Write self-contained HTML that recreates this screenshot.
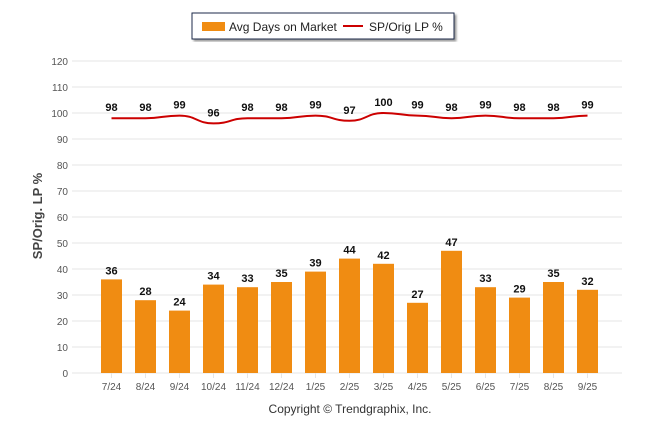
<!DOCTYPE html>
<html><head><meta charset="utf-8"><style>
body{margin:0;background:#fff;font-family:"Liberation Sans",sans-serif}
svg text{font-family:"Liberation Sans",sans-serif}
</style></head><body>
<svg width="646" height="434">
<defs><filter id="sh"><feDropShadow dx="2" dy="2" stdDeviation="1" flood-color="#999"/></filter></defs>
<g>
<rect x="192" y="13" width="262" height="26" fill="#fff" stroke="#1b2a4a" stroke-width="1" filter="url(#sh)"/>
<rect x="202" y="22" width="23" height="9" fill="#f08c12"/>
<text x="229" y="31" font-size="12" fill="#222">Avg Days on Market</text>
<line x1="343" y1="26" x2="363" y2="26" stroke="#cc0000" stroke-width="2"/>
<text x="369" y="31" font-size="12" fill="#222">SP/Orig LP %</text>
</g>
<g id="grid"></g><g id="bars"></g><g id="line"></g><g id="labels"></g>
<text transform="translate(42,216) rotate(-90)" text-anchor="middle" font-size="13" font-weight="bold" fill="#444">SP/Orig. LP %</text>
<text x="350" y="413" text-anchor="middle" font-size="12" fill="#333">Copyright © Trendgraphix, Inc.</text>
</svg>
<script>
const categories=["7/24","8/24","9/24","10/24","11/24","12/24","1/25","2/25","3/25","4/25","5/25","6/25","7/25","8/25","9/25"];
const days=[36,28,24,34,33,35,39,44,42,27,47,33,29,35,32];
const sp=[98,98,99,96,98,98,99,97,100,99,98,99,98,98,99];
const yTicks=[0,10,20,30,40,50,60,70,80,90,100,110,120];
const NS="http://www.w3.org/2000/svg";
const y=v=>373-v*2.6, x=i=>111.5+34*i;
function mk(t,a,p){const e=document.createElementNS(NS,t);for(const k in a)e.setAttribute(k,a[k]);p.appendChild(e);return e;}
const G=document.getElementById('grid'),B=document.getElementById('bars'),L=document.getElementById('line'),T=document.getElementById('labels');
yTicks.forEach(v=>{
 const l=mk('line',{x1:72,x2:622,y1:y(v),y2:y(v),stroke:'#e6e6e6'},G);
 
 
 const t=mk('text',{x:68,y:y(v)+4,'text-anchor':'end','font-size':10,fill:'#555'},G);t.textContent=v;
 
 
});
categories.forEach((c,i)=>{
 const t=mk('text',{x:x(i),y:390,'text-anchor':'middle','font-size':10,fill:'#555'},G);t.textContent=c;
 
 
 mk('line',{x1:x(i),x2:x(i),y1:373,y2:378,stroke:'#e6e6e6'},G);
 const r=mk('rect',{x:x(i)-10.5,y:y(days[i]),width:21,height:days[i]*2.6,fill:'#f08c12'},B);
 
 
 const bl=mk('text',{x:x(i),y:y(days[i])-5,'text-anchor':'middle','font-size':11,'font-weight':'bold',fill:'#111'},T);bl.textContent=days[i];
 
 
 const sl=mk('text',{x:x(i),y:y(sp[i])-7,'text-anchor':'middle','font-size':11,'font-weight':'bold',fill:'#111'},T);sl.textContent=sp[i];
 
 
});
let d='M'+x(0)+','+y(sp[0]);
for(let i=1;i<sp.length;i++){const mx=(x(i-1)+x(i))/2;d+=' C'+mx+','+y(sp[i-1])+' '+mx+','+y(sp[i])+' '+x(i)+','+y(sp[i]);}
const p=mk('path',{d:d,fill:'none',stroke:'#cc0000','stroke-width':2},L);


</script>
</body></html>
